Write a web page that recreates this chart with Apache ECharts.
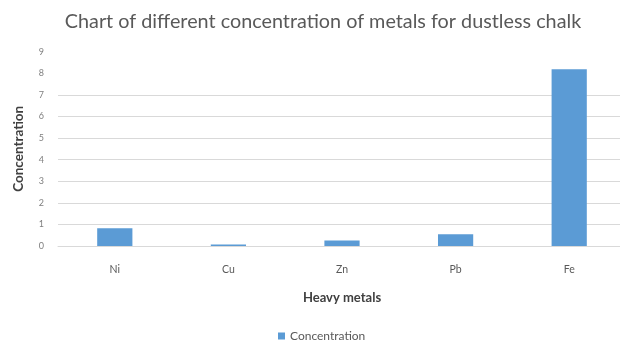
<!DOCTYPE html>
<html>
<head>
<meta charset="utf-8">
<script src="https://cdn.jsdelivr.net/npm/echarts@6/dist/echarts.min.js"></script>
<style>
  html, body { margin: 0; padding: 0; background: #ffffff; overflow: hidden; }
  /* the plot runs slightly past the right edge of the 620px view */
  #chart { width: 626px; height: 342px; }
</style>
</head>
<body>
<div id="chart"></div>
<script>
// Heavy metal concentrations measured in dustless chalk
const metals = ['Ni', 'Cu', 'Zn', 'Pb', 'Fe'];
const concentration = [0.82, 0.07, 0.25, 0.54, 8.18];
const yTicks = [0, 1, 2, 3, 4, 5, 6, 7, 8, 9];

const FONT = 'Lato, "Open Sans", sans-serif';
const GRID_GRAY = '#d9d9d9';

// Gridlines are drawn up to 7; the two top lines stay hidden
const splitColors = yTicks.map(v => (v <= 7 ? GRID_GRAY : 'rgba(0,0,0,0)'));

const chart = echarts.init(document.getElementById('chart'), null, { renderer: 'canvas' });

chart.setOption({
  backgroundColor: '#ffffff',
  animation: false,
  title: {
    text: 'Chart of different concentration of metals for dustless chalk',
    left: 318,
    textAlign: 'center',
    top: 7,
    textStyle: { fontFamily: FONT, fontSize: 19.8, fontWeight: 'normal', color: '#595959' }
  },
  legend: {
    data: ['Concentration'],
    top: 325,
    left: 273,
    itemWidth: 7,
    itemHeight: 7,
    itemGap: 3,
    icon: 'rect',
    textStyle: { fontFamily: FONT, fontSize: 12, color: '#595959' }
  },
  grid: { left: 58, right: 0, top: 51.6, bottom: 96, containLabel: false },
  xAxis: {
    type: 'category',
    data: metals,
    name: 'Heavy metals',
    nameLocation: 'middle',
    nameGap: 45,
    nameTextStyle: { fontFamily: FONT, fontSize: 13, fontWeight: 'bold', color: '#404040' },
    axisLine: { show: true, lineStyle: { color: GRID_GRAY } },
    axisTick: { show: false },
    axisLabel: { fontFamily: FONT, fontSize: 10.5, color: '#595959', margin: 18 },
    splitLine: { show: false }
  },
  yAxis: {
    type: 'value',
    min: yTicks[0],
    max: yTicks[yTicks.length - 1],
    interval: 1,
    name: 'Concentration',
    nameLocation: 'middle',
    nameGap: 32,
    nameRotate: 90,
    nameTextStyle: { fontFamily: FONT, fontSize: 13.5, fontWeight: 'bold', color: '#404040' },
    axisLine: { show: false },
    axisTick: { show: false },
    axisLabel: { fontFamily: FONT, fontSize: 9, color: '#7f7f7f', margin: 14 },
    splitLine: { show: true, lineStyle: { color: splitColors, width: 1 } }
  },
  series: [{
    name: 'Concentration',
    type: 'bar',
    data: concentration,
    barWidth: '31%',
    itemStyle: { color: '#5b9bd5' }
  }]
});
</script>
</body>
</html>
